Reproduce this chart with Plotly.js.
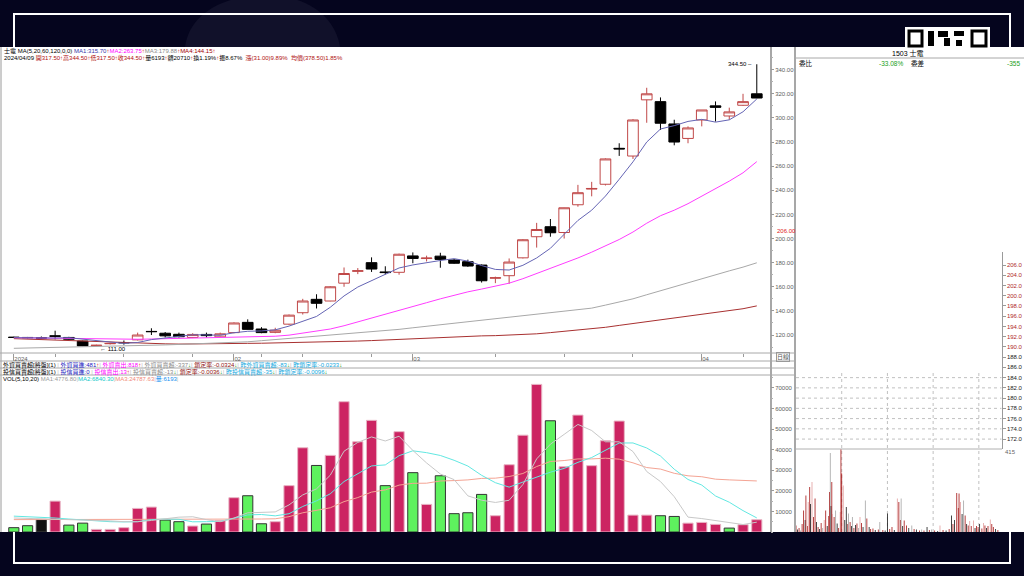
<!DOCTYPE html>
<html><head><meta charset="utf-8">
<script src="https://cdn.plot.ly/plotly-3.0.1.min.js"></script>
<style>html,body{margin:0;padding:0;background:#05051e;}#chart{width:1024px;height:576px;}</style>
</head><body><div id="chart"></div>
<script>
// ---------- data ----------
const dates = ['2024/01/10','2024/01/11','2024/01/12','2024/01/15','2024/01/16','2024/01/17','2024/01/18','2024/01/19','2024/01/22','2024/01/23','2024/01/24','2024/01/25','2024/01/26','2024/01/29','2024/01/30','2024/01/31','2024/02/01','2024/02/02','2024/02/05','2024/02/15','2024/02/16','2024/02/19','2024/02/20','2024/02/21','2024/02/22','2024/02/23','2024/02/26','2024/02/27','2024/02/29','2024/03/01','2024/03/04','2024/03/05','2024/03/06','2024/03/07','2024/03/08','2024/03/11','2024/03/12','2024/03/13','2024/03/14','2024/03/15','2024/03/18','2024/03/19','2024/03/20','2024/03/21','2024/03/22','2024/03/25','2024/03/26','2024/03/27','2024/03/28','2024/03/29','2024/04/01','2024/04/02','2024/04/03','2024/04/08','2024/04/09'];
const openP  = [118.2,118.0,117.6,119.3,118.0,115.0,111.2,112.8,113.8,116.0,123.0,121.5,120.6,118.0,120.5,118.5,122.0,130.5,125.0,122.2,129.0,138.5,149.6,148.2,163.0,172.8,180.0,172.3,172.0,185.6,183.4,185.4,182.2,180.8,178.0,167.1,169.2,184.0,201.5,209.8,205.0,228.0,241.0,245.0,274.8,268.4,315.0,313.5,295.0,283.0,298.3,310.0,301.6,310.5,320.0];
const highP  = [118.6,118.4,118.8,123.6,118.5,115.3,112.0,113.5,115.5,122.0,125.6,122.5,122.0,121.5,122.0,122.0,130.5,133.0,126.5,126.0,137.0,150.0,153.8,160.5,176.0,175.5,184.4,177.0,187.5,188.5,185.8,188.2,183.0,182.5,178.5,168.4,183.5,199.5,213.0,216.2,225.6,244.5,247.0,266.5,279.0,299.0,325.0,317.0,298.5,293.0,306.6,313.7,308.5,320.0,344.5];
const lowP   = [117.6,117.3,117.2,116.4,116.2,110.8,111.0,112.2,112.0,115.5,120.0,118.0,118.0,117.5,118.0,118.0,121.5,124.5,121.5,121.5,128.5,137.0,142.0,148.0,160.0,170.5,172.3,170.3,170.0,179.5,181.0,175.8,179.0,176.5,163.5,163.0,162.5,183.5,192.5,201.5,200.0,226.4,235.0,244.0,268.5,266.0,296.0,290.0,277.3,279.0,293.0,297.0,298.5,310.0,316.3];
const closeP = [118.0,117.8,117.5,119.0,116.5,111.0,111.5,113.0,113.6,120.0,122.8,119.3,118.6,120.5,119.5,121.0,130.0,124.7,122.0,124.0,136.5,148.2,146.3,160.0,171.0,173.3,174.7,171.8,187.0,183.5,183.8,182.7,179.5,177.2,165.0,167.5,180.5,199.0,207.5,204.8,225.5,238.0,241.5,266.0,274.3,298.3,320.0,295.6,280.0,291.7,306.6,308.8,305.0,313.5,316.5];
const ma5   = [117.8,117.6,117.4,117.5,117.8,116.4,115.1,114.2,113.1,113.8,116.2,117.7,118.9,120.2,120.1,119.8,121.9,123.1,123.4,124.3,127.4,131.1,135.4,143.0,152.4,159.8,165.1,170.2,175.6,178.1,180.2,181.8,183.3,181.3,177.6,174.4,173.9,177.8,183.9,191.9,203.5,215.0,223.5,235.2,249.1,263.6,280.0,290.8,293.6,297.1,298.8,296.5,298.4,305.1,315.7];
const ma20  = [117.8,117.6,117.4,117.2,117.0,116.8,116.6,116.4,116.4,116.5,116.7,116.9,117.1,117.4,117.7,118.0,118.4,118.7,118.9,119.0,119.9,121.5,122.9,125.0,127.7,130.8,133.9,136.9,140.6,143.7,146.8,150.0,153.0,155.8,158.1,160.4,163.0,166.7,171.0,175.0,179.4,183.9,188.7,194.0,199.2,205.4,212.7,218.9,223.5,228.9,235.1,241.4,247.6,254.5,263.75];
const ma60  = [109.0,109.2,109.4,109.6,109.8,110.0,110.2,110.5,110.8,111.1,111.4,111.8,112.2,112.6,113.0,113.3,113.6,114.4,115.3,116.2,117.1,118.0,118.9,119.9,120.8,121.8,122.7,123.7,124.7,126.0,127.3,128.6,129.9,131.1,132.4,133.7,134.9,136.1,137.4,138.6,139.8,141.0,142.3,144.8,147.4,150.0,153.4,156.8,160.2,163.6,167.0,170.1,173.2,176.3,179.88];
const ma120 = [117.0,116.6,116.1,115.6,115.1,114.6,114.1,113.7,113.4,113.1,112.9,112.7,112.5,112.5,112.6,112.9,113.0,113.1,113.2,113.4,113.5,113.7,114.0,114.3,114.6,115.0,115.4,115.9,116.4,117.0,117.6,118.2,118.7,119.0,119.3,119.5,119.9,120.3,121.0,122.0,123.0,124.0,125.1,126.4,128.0,129.6,131.1,132.6,134.1,135.6,137.1,138.6,140.2,141.8,144.15];
const volume = [2100,3060,6100,15000,3350,4300,1260,1260,2100,11450,12100,5800,5000,2900,3850,5500,16650,17600,4000,5000,22500,40900,32300,37200,63250,43800,54200,22500,48700,28800,13400,27300,8900,9350,18250,7900,32650,47000,71650,54000,31700,56750,32200,44300,53850,8200,8200,7900,7550,4300,4650,3700,1900,3550,5950];
const volState = ['dn','dn','flat','up','dn','dn','up','up','up','up','up','dn','dn','up','dn','up','up','dn','dn','up','up','up','dn','up','up','up','up','dn','up','dn','up','dn','dn','dn','dn','up','up','up','up','dn','up','up','up','up','up','up','up','dn','dn','up','up','up','dn','up','up'];
const volMa5  = [6800,6600,6400,6200,6000,6000,5800,5400,5000,5000,5600,6500,7200,7400,6000,5000,6780,9300,9520,9750,13150,18000,20940,27580,39230,43490,46150,44190,46490,39600,33520,28140,25420,17550,15440,14340,15410,23030,35490,42640,47400,52220,49260,43790,43760,39060,29350,24490,17140,7230,6520,5620,4420,3620,4777];
const volMa10 = [7700,7500,7200,6800,6300,5800,5300,5000,4900,5000,6000,6270,6160,4950,5000,5120,6660,8300,8490,7840,8880,12390,15120,18550,24490,28320,32080,32570,37040,39420,38510,37150,34810,32020,27520,23930,21780,24230,26520,29040,30870,33820,36150,39640,43200,43230,40790,36880,30470,25500,22790,17490,14460,10380,6840];
const volMa20 = [6000,6000,6000,6000,6000,6000,6000,6000,6000,6000,6000,6100,6100,6100,6100,6200,6200,6300,6300,6420,7440,9330,10640,11750,14750,16720,19370,20430,22760,23630,23690,24770,24960,25290,26010,26130,26930,28400,31780,34230,34690,35480,35480,35830,35360,33580,31280,30550,28490,27270,26830,25650,25300,25010,24788];
const monthTickDates = ['2024/01/10','2024/02/01','2024/03/01','2024/04/01'];
const monthLabels = ['2024','02','03','04'];
const weekTickDates = ['2024/01/15','2024/01/22','2024/01/29','2024/02/05','2024/02/19','2024/02/26','2024/03/11','2024/03/18','2024/03/25','2024/04/08'];
const priceTicks = [120,140,160,180,200,220,240,260,280,300,320,340];
const volTicks = [10000,20000,30000,40000,50000,60000,70000];
// intraday (right panel)
const intradayPriceTicks = [206,204,202,200,198,196,194,192,190,188,186,184,182,180,178,176,174,172];
const intradayRef = 188;
const intradayGridLevels = [184,182,180,178,176,174,172];
const intradayHourMarks = [60,120,180,240];
const intradayMin = [0,2,4,6,8,10,12,13,15,16,18,19,21,23,25,27,29,31,33,35,37,39,41,43,44,45,46,47,48,50,52,54,56,58,59,60,62,64,66,68,69,71,73,74,76,78,80,82,84,86,88,91,93,96,98,101,104,108,110,114,117,120,123,126,129,133,135,137,138,140,142,145,148,152,155,158,162,165,168,172,175,178,182,186,189,193,197,201,204,206,208,211,213,214,216,218,220,222,224,226,228,230,233,235,237,239,241,244,246,248,250,252,255,257,259,262,265];
const intradayVol = [33,12,20,8,40,108,60,183,30,150,225,140,250,75,167,50,25,15,45,20,60,108,30,80,200,395,130,250,90,75,108,42,20,100,413,292,233,60,125,40,92,50,30,75,20,35,42,20,75,45,25,158,67,25,15,17,10,12,50,10,8,92,15,25,10,167,150,60,167,30,58,33,20,33,15,12,8,12,8,25,10,12,8,5,33,10,8,15,83,40,60,195,120,192,150,90,158,83,40,33,55,30,58,20,30,25,40,17,45,33,20,30,62,40,25,15,10];
const intradayTone = ['r','k','r','g','r','r','k','r','r','p','r','k','p','r','r','k','r','k','r','g','p','r','k','r','r','g','k','r','p','r','g','k','r','p','r','r','p','k','k','r','g','r','k','g','r','k','r','g','p','r','k','g','r','k','r','r','k','r','g','r','k','k','r','r','k','p','r','r','g','k','r','r','k','g','r','k','r','g','r','k','r','g','r','k','p','r','k','r','k','r','k','r','r','r','p','k','g','r','k','r','p','r','p','k','r','r','k','r','p','r','k','r','p','r','r','k','r'];

// ---------- helpers ----------
const W = 1024, H = 576;
const px = x => x / W, py = y => 1 - y / H;
const F = 'Liberation Sans, Noto Sans CJK TC, sans-serif';
const idx = dates.map((d, i) => i);
const di = d => dates.indexOf(d);

const volFill = {up: '#cc2462', dn: '#5ef25e', flat: '#111111'};
const volEdge = {up: '#e8b4c4', dn: '#333333', flat: '#444444'};
const toneColor = {r: '#a81c1c', p: '#e3a2a2', g: '#a8a8a8', k: '#222222'};

const traces = [
  {type: 'candlestick', x: idx, open: openP, high: highP, low: lowP, close: closeP,
   xaxis: 'x', yaxis: 'y', whiskerwidth: 0, hoverinfo: 'skip',
   increasing: {line: {color: '#c04848', width: 1}, fillcolor: '#ffffff'},
   decreasing: {line: {color: '#000000', width: 1}, fillcolor: '#000000'}},
  {type: 'scatter', mode: 'lines', x: idx, y: ma120, xaxis: 'x', yaxis: 'y', line: {color: '#a83030', width: 1}, hoverinfo: 'skip'},
  {type: 'scatter', mode: 'lines', x: idx, y: ma60, xaxis: 'x', yaxis: 'y', line: {color: '#a8a8a8', width: 1}, hoverinfo: 'skip'},
  {type: 'scatter', mode: 'lines', x: idx, y: ma20, xaxis: 'x', yaxis: 'y', line: {color: '#ff3cff', width: 1}, hoverinfo: 'skip'},
  {type: 'scatter', mode: 'lines', x: idx, y: ma5, xaxis: 'x', yaxis: 'y', line: {color: '#6464b4', width: 1}, hoverinfo: 'skip'},
  {type: 'bar', x: idx, y: volume, xaxis: 'x2', yaxis: 'y2', width: 0.74, hoverinfo: 'skip',
   marker: {color: volState.map(s => volFill[s]), line: {color: volState.map(s => volEdge[s]), width: 1}}},
  {type: 'scatter', mode: 'lines', x: idx, y: volMa20, xaxis: 'x2', yaxis: 'y2', line: {color: '#f4a494', width: 1}, hoverinfo: 'skip'},
  {type: 'scatter', mode: 'lines', x: idx, y: volMa10, xaxis: 'x2', yaxis: 'y2', line: {color: '#62e8e2', width: 1}, hoverinfo: 'skip'},
  {type: 'scatter', mode: 'lines', x: idx, y: volMa5, xaxis: 'x2', yaxis: 'y2', line: {color: '#c8c8c8', width: 1}, hoverinfo: 'skip'},
  {type: 'bar', x: intradayMin, y: intradayVol, xaxis: 'x3', yaxis: 'y4', width: 1.1, hoverinfo: 'skip',
   marker: {color: intradayTone.map(t => toneColor[t]), line: {width: 0}}},
  {type: 'scatter', mode: 'lines', x: [0, 270], y: [intradayRef, intradayRef], xaxis: 'x3', yaxis: 'y3', line: {color: 'rgba(0,0,0,0)', width: 0}, hoverinfo: 'skip'}
];

// ---------- shapes ----------
const shapes = [];
const hLine = (x0, x1, y, color, w, dash) => shapes.push({type: 'line', xref: 'paper', yref: 'paper', x0: px(x0), x1: px(x1), y0: py(y), y1: py(y), line: {color, width: w || 1, dash: dash || 'solid'}, layer: 'below'});
const vLine = (x, y0, y1, color, w, dash) => shapes.push({type: 'line', xref: 'paper', yref: 'paper', x0: px(x), x1: px(x), y0: py(y0), y1: py(y1), line: {color, width: w || 1, dash: dash || 'solid'}, layer: 'below'});
// faint video backdrop
shapes.push({type: 'path', xref: 'paper', yref: 'paper',
  path: `M ${px(185)} ${py(47)} C ${px(190)} ${py(10)}, ${px(230)} ${py(-5)}, ${px(265)} ${py(-5)} C ${px(305)} ${py(-5)}, ${px(335)} ${py(15)}, ${px(340)} ${py(47)} Z`,
  fillcolor: '#11112a', line: {width: 0}, layer: 'below'});
shapes.push({type: 'rect', xref: 'paper', yref: 'paper', x0: px(14), x1: px(1010), y0: py(14), y1: py(563), line: {color: '#ffffff', width: 2}, layer: 'below'});
shapes.push({type: 'rect', xref: 'paper', yref: 'paper', x0: 0, x1: 1, y0: py(532), y1: py(47), fillcolor: '#ffffff', line: {width: 0}, layer: 'below'});
// logo
shapes.push({type: 'rect', xref: 'paper', yref: 'paper', x0: px(905), x1: px(990), y0: py(47), y1: py(27), fillcolor: '#ffffff', line: {width: 0}, layer: 'below'});
[[909, 922], [972, 986]].forEach(([a, b]) => shapes.push({type: 'rect', xref: 'paper', yref: 'paper', x0: px(a), x1: px(b), y0: py(46), y1: py(31), line: {color: '#000', width: 3}, fillcolor: '#fff', layer: 'below'}));
[[928, 934, 31, 46], [938, 948, 31, 37], [944, 950, 38, 46], [954, 964, 31, 36], [956, 962, 40, 46]].forEach(([a, b, c, d]) => shapes.push({type: 'rect', xref: 'paper', yref: 'paper', x0: px(a), x1: px(b), y0: py(d), y1: py(c), fillcolor: '#000', line: {width: 0}, layer: 'below'}));
// panel borders
vLine(1, 47, 532, '#9a9a9a');
vLine(771, 47, 532, '#8a8a8a', 1.5);
vLine(795, 47, 532, '#8a8a8a', 1.5);
[353, 361, 368, 375].forEach(y => hLine(0, 795, y, '#a8a8a8'));
hLine(795, 1024, 58, '#a8a8a8');
hLine(796, 1002, 449, '#b0b0b0');
// intraday dotted grid
intradayGridLevels.forEach(v => shapes.push({type: 'line', xref: 'x3', yref: 'y3', x0: 0, x1: 270, y0: v, y1: v, line: {color: '#c0c0c0', width: 1, dash: 'dot'}, layer: 'below'}));
intradayHourMarks.forEach(m => shapes.push({type: 'line', xref: 'x3', yref: 'paper', x0: m, x1: m, y0: py(532), y1: py(370), line: {color: '#c0c0c0', width: 1, dash: 'dot'}, layer: 'below'}));

// ---------- annotations ----------
const ann = [];
const txt = (x, y, text, o) => ann.push(Object.assign({xref: 'paper', yref: 'paper', x: px(x), y: py(y), text, showarrow: false, xanchor: 'left', yanchor: 'middle', font: {size: 6, color: '#000', family: F}}, o || {}));
const sp = (c, t) => `<span style="color:${c}">${t}</span>`;
const up = sp('#d01010', '↑'), dn = sp('#10a010', '↓'), bar = sp('#bbbbbb', '|');
txt(2, 50.5, sp('#000', '士電 MA(5,20,60,120,0,0) ') + sp('#3434a8', 'MA1:315.70') + up + sp('#ff00ff', 'MA2:263.75') + up + sp('#8a8a8a', 'MA3:179.88') + up + sp('#a00000', 'MA4:144.15') + up);
txt(2, 58, sp('#000', '2024/04/09 ') + sp('#b01010', '開317.50') + up + sp('#b01010', '高344.50') + up + sp('#b01010', '低317.50') + up + sp('#b01010', '收344.50') + up + sp('#000', '量6193') + up + sp('#000', '額20710') + up + sp('#000', '換1.19%') + up + sp('#000', '振8.67%  ') + sp('#b01010', '漲(31.00)9.89%  ') + sp('#b01010', '均價(378.50)1.85%'));
txt(1, 364.8, sp('#000', '外資買賣超[將盤](1) ') + bar + sp('#1a1ac0', ' 外資買進:481') + up + bar + sp('#ff00ff', ' 外資賣出:818') + up + bar + sp('#8a8a8a', ' 外資買賣超:-337') + dn + bar + sp('#901010', ' 鎖定率:-0.0324') + dn + bar + sp('#10a8e0', ' 昨外資買賣超:-83') + dn + bar + sp('#10a8e0', ' 昨鎖定率:-0.0233') + dn);
txt(1, 372, sp('#000', '投信買賣超[將盤](1) ') + bar + sp('#1a1ac0', ' 投信買進:0 ') + bar + sp('#ff00ff', ' 投信賣出:13') + up + bar + sp('#8a8a8a', ' 投信買賣超:-13') + dn + bar + sp('#901010', ' 鎖定率:-0.0036') + dn + bar + sp('#10a8e0', ' 昨投信買賣超:-35') + dn + bar + sp('#10a8e0', ' 昨鎖定率:-0.0096') + dn);
txt(1, 379.5, sp('#000', 'VOL(5,10,20) ') + sp('#9a9a9a', 'MA1:4776.80') + bar + sp('#10c8c8', 'MA2:6840.30') + bar + sp('#f08878', 'MA3:24787.63') + bar + sp('#1090f0', '量:6193') + bar);
// price markers
ann.push({xref: 'x', yref: 'y', x: 54, y: 344.5, text: '344.50 –', showarrow: false, xanchor: 'right', yanchor: 'middle', xshift: -3, font: {size: 6, color: '#000', family: F}});
ann.push({xref: 'x', yref: 'y', x: 6, y: 111, text: '← 111.00', showarrow: false, xanchor: 'left', yanchor: 'middle', xshift: 2, yshift: -3, font: {size: 6, color: '#000', family: F}});
ann.push({xref: 'paper', yref: 'y', x: px(775), y: 206, text: '206.00', showarrow: false, xanchor: 'left', yanchor: 'middle', font: {size: 6, color: '#e02020', family: F}});
txt(783, 357, '日線', {xanchor: 'center', font: {size: 6, color: '#555', family: F}, bordercolor: '#999', borderwidth: 1, borderpad: 0});
// right panel text
txt(908, 52.5, '1503 士電', {xanchor: 'center', font: {size: 7, color: '#000', family: F}});
txt(797, 63, '委比', {font: {size: 6.5, color: '#000', family: F}});
txt(905, 63, '-33.08%', {xanchor: 'right', font: {size: 6.5, color: '#20a020', family: F}});
txt(909, 63, '委差', {font: {size: 6.5, color: '#000', family: F}});
txt(1022, 63, '-355', {xanchor: 'right', font: {size: 6.5, color: '#20a020', family: F}});
txt(1003, 452, '415', {font: {size: 6, color: '#666', family: F}});

const axFont = {size: 6, color: '#606060', family: F};
const layout = {
  width: W, height: H, margin: {l: 0, r: 0, t: 0, b: 0},
  paper_bgcolor: '#05051e', plot_bgcolor: 'rgba(0,0,0,0)', showlegend: false,
  boxgap: 0.12, boxgroupgap: 0.12,
  font: {family: F},
  xaxis: {domain: [px(2), px(770)], anchor: 'y', range: [-0.86, 54.96], showgrid: false, zeroline: false, showline: false,
    rangeslider: {visible: false}, fixedrange: true,
    tickmode: 'array', tickvals: monthTickDates.map(di), ticktext: monthLabels, ticks: 'outside', ticklen: 7, tickcolor: '#9a9a9a',
    ticklabelposition: 'outside right', tickfont: axFont,
    minor: {tickmode: 'array', tickvals: weekTickDates.map(di), ticks: 'outside', ticklen: 3, tickcolor: '#9a9a9a', showgrid: false}},
  yaxis: {domain: [py(353), py(47)], anchor: 'x', range: [105.1, 358.8], side: 'right', showgrid: false, zeroline: false, showline: false,
    tickmode: 'array', tickvals: priceTicks, tickformat: '.2f', ticks: 'outside', ticklen: 3, tickcolor: '#9a9a9a', tickfont: axFont,
    minor: {dtick: 10, ticks: 'outside', ticklen: 2, tickcolor: '#b0b0b0', showgrid: false}},
  xaxis2: {domain: [px(2), px(770)], anchor: 'y2', range: [-0.86, 54.96], showgrid: false, zeroline: false, showline: false, showticklabels: false, ticks: ''},
  yaxis2: {domain: [py(532), py(375)], anchor: 'x2', range: [0, 76214], side: 'right', showgrid: false, zeroline: false, showline: false,
    tickmode: 'array', tickvals: volTicks, tickformat: 'd', ticks: 'outside', ticklen: 3, tickcolor: '#9a9a9a', tickfont: axFont,
    minor: {dtick: 5000, ticks: 'outside', ticklen: 2, tickcolor: '#b0b0b0', showgrid: false}},
  xaxis3: {domain: [px(796), px(1001.7)], anchor: 'y4', range: [0, 270], showgrid: false, zeroline: false, showline: false, showticklabels: false, ticks: ''},
  yaxis3: {domain: [py(449), py(252)], anchor: 'x3', range: [170.06, 208.54], side: 'right', showgrid: false, zeroline: false,
    showline: true, linecolor: '#9a9a9a', linewidth: 1,
    tickmode: 'array', tickvals: intradayPriceTicks,
    ticktext: intradayPriceTicks.map(v => sp(v > intradayRef ? '#b02828' : '#222222', v.toFixed(1))),
    ticks: 'outside', ticklen: 3, tickcolor: '#9a9a9a', tickfont: {size: 6, color: '#333', family: F}},
  yaxis4: {domain: [py(532), py(449)], anchor: 'x3', range: [0, 415], side: 'right', showgrid: false, zeroline: false, showline: false,
    showticklabels: false, ticks: ''},
  shapes, annotations: ann
};
Plotly.newPlot('chart', traces, layout, {staticPlot: true, displayModeBar: false});
</script>
</body></html>
